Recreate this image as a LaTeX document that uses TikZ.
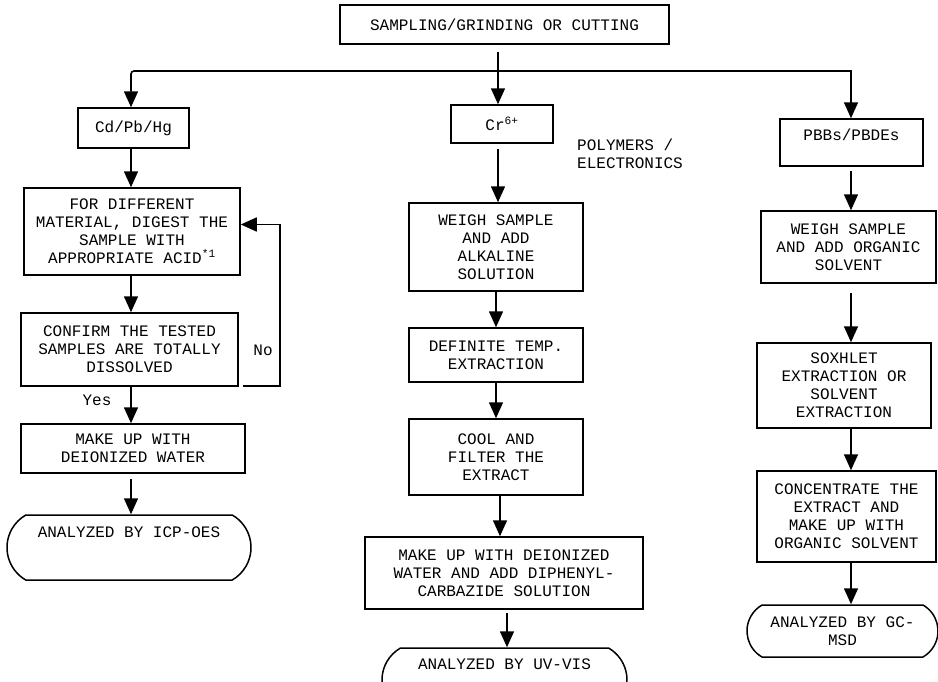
\documentclass[tikz,border=0pt]{standalone}
\usepackage{fontspec}
\setmonofont{Liberation Mono}
\usetikzlibrary{arrows.meta,shapes.misc,calc}
\begin{document}
\begin{tikzpicture}[x=1pt,y=-1pt,
  every node/.style={font=\ttfamily\fontsize{16}{18}\selectfont},
  box/.style={draw, line width=1.5pt, align=center, inner sep=0pt},
  term/.style={draw, line width=1.5pt, align=center, inner sep=0pt,
    rounded rectangle, rounded rectangle arc length=120},
  arr/.style={line width=1.6pt, -{Triangle[length=16pt,width=14pt]}},
  lbl/.style={inner sep=0pt}]
\useasboundingbox (0,0) rectangle (938,681);

% common start
\node[box, minimum width=329pt, minimum height=39pt] (top) at (504.5,24.5) {SAMPLING/GRINDING OR CUTTING};

% Cd / Pb / Hg branch
\node[box, minimum width=111pt, minimum height=40pt] (cd) at (133.5,128) {Cd/Pb/Hg};
\node[box, minimum width=216pt, minimum height=87pt] (digest) at (132,231.5)
  {FOR DIFFERENT\\MATERIAL, DIGEST THE\\SAMPLE WITH\\APPROPRIATE ACID\textsuperscript{*1}};
\node[box, minimum width=217pt, minimum height=73pt] (confirm) at (129.5,349.5)
  {CONFIRM THE TESTED\\SAMPLES ARE TOTALLY\\DISSOLVED};
\node[box, minimum width=224pt, minimum height=49pt] (makeup) at (133,448.5)
  {MAKE UP WITH\\DEIONIZED WATER};
\node[term, minimum width=244pt, text height=22pt, text depth=43pt] (icp) at (129,547.5)
  {ANALYZED BY ICP-OES};
\node[lbl] (no) at (263,350) {No};
\node[lbl] (yes) at (97,400) {Yes};

% Cr(VI) branch
\node[box, minimum width=102pt, minimum height=38pt] (cr) at (502,124) {Cr\textsuperscript{6+}};
\node[lbl, anchor=west, align=left] (poly) at (577,154) {POLYMERS /\\ELECTRONICS};
\node[box, minimum width=174pt, minimum height=88pt] (weighM) at (496,247)
  {WEIGH SAMPLE\\AND ADD\\ALKALINE\\SOLUTION};
\node[box, minimum width=174pt, minimum height=54pt] (def) at (496,355)
  {DEFINITE TEMP.\\EXTRACTION};
\node[box, minimum width=174pt, minimum height=76pt] (cool) at (496,457)
  {COOL AND\\FILTER THE\\EXTRACT};
\node[box, minimum width=278pt, minimum height=72pt] (dpc) at (504,573)
  {MAKE UP WITH DEIONIZED\\WATER AND ADD DIPHENYL-\\CARBAZIDE SOLUTION};
\node[term, minimum width=245pt, text height=21pt, text depth=43pt] (uv) at (504.5,680)
  {ANALYZED BY UV-VIS};

% PBBs / PBDEs branch
\node[box, minimum width=143pt, text height=21pt, text depth=26pt] (pbb) at (851.5,142.5) {PBBs/PBDEs};
\node[box, minimum width=175pt, minimum height=72pt] (weighR) at (848.5,247)
  {WEIGH SAMPLE\\AND ADD ORGANIC\\SOLVENT};
\node[box, minimum width=174pt, minimum height=85pt] (sox) at (844,385.5)
  {SOXHLET\\EXTRACTION OR\\SOLVENT\\EXTRACTION};
\node[box, minimum width=179pt, minimum height=91pt] (conc) at (846.5,516.5)
  {CONCENTRATE THE\\EXTRACT AND\\MAKE UP WITH\\ORGANIC SOLVENT};
\node[term, minimum width=191pt, minimum height=52pt] (gc) at (842.5,631)
  {ANALYZED BY GC-\\MSD};

% connectors
\coordinate (j) at (498,71);
\coordinate (colL) at (131,0);
\coordinate (colR) at (851,0);

\draw[arr] ($(top.south -| j)+(0,7)$) -- (j |- cr.north);
\draw[arr, rounded corners=3pt] (j) -| (colL |- cd.north);
\draw[arr] (j) -| (colR |- pbb.north);

\draw[arr] (colL |- cd.south) -- (colL |- digest.north);
\draw[arr] (colL |- digest.south) -- (colL |- confirm.north);
\draw[arr] (colL |- confirm.south) -- (colL |- makeup.north);
\draw[arr] ($(colL |- makeup.south)+(0,5)$) -- (colL |- icp.north);
\draw[arr] ($(confirm.south east)+(4,-1)$) -- ++(37,0) |- ($(digest.east)+(0,-7)$);

\draw[arr] ($(cr.south -| j)+(0,5)$) -- (j |- weighM.north);
\draw[arr] (weighM.south) -- (weighM.south |- def.north);
\draw[arr] (def.south) -- (def.south |- cool.north);
\coordinate (c4) at ($(cool.south)+(4,0)$);
\draw[arr] (c4) -- (c4 |- dpc.north);
\coordinate (d3) at ($(dpc.south)+(3,3)$);
\draw[arr] (d3) -- (d3 |- uv.north);

\draw[arr] ($(colR |- pbb.south)+(0,4)$) -- (colR |- weighR.north);
\draw[arr] ($(colR |- weighR.south)+(0,9)$) -- (colR |- sox.north);
\draw[arr] (colR |- sox.south) -- (colR |- conc.north);
\draw[arr] (colR |- conc.south) -- (colR |- gc.north);
\end{tikzpicture}
\end{document}
